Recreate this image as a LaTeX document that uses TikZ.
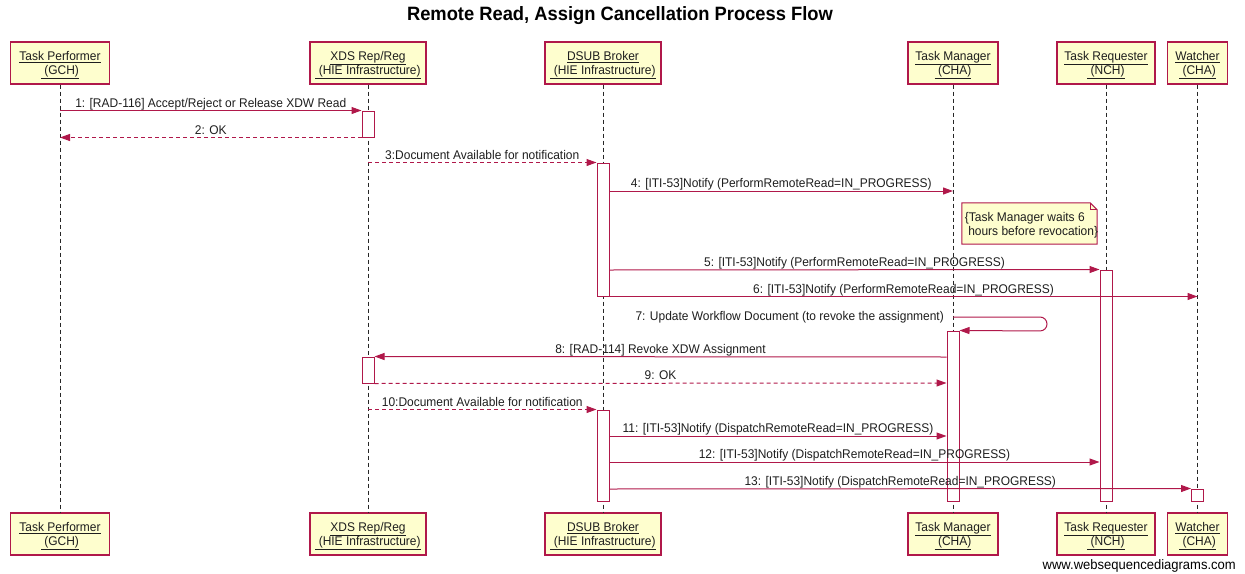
\documentclass[tikz,border=0pt]{standalone}
\usepackage{fontspec}
\setmainfont{Liberation Sans}[FakeStretch=0.95]
\usetikzlibrary{arrows.meta}
\definecolor{wsdline}{HTML}{B0184A}
\definecolor{wsdfill}{HTML}{FEFECE}
\definecolor{wsdtext}{HTML}{1E1E1E}

\newcommand{\wsdfont}{\fontsize{12.6}{14}\selectfont}
\newcommand{\tallstrut}{\rule{0pt}{13.5pt}}

\tikzset{
  actor/.style={draw=wsdline, fill=wsdfill, line width=1.2pt, minimum height=42pt,
    inner sep=0pt, align=center, font=\wsdfont, text=wsdtext},
  life/.style={draw=black!85, dash pattern=on 4pt off 3pt, line width=0.9pt},
  act/.style={draw=wsdline, fill=white, line width=1pt, minimum width=12pt, inner sep=0pt},
  msg/.style={draw=wsdline, line width=1pt, -{Triangle[length=10pt,width=7pt]}},
  reply/.style={msg, dash pattern=on 4pt off 3pt},
  lbl/.style={font=\wsdfont, text=wsdtext, inner sep=0pt, anchor=base, yshift=3.5pt},
  notebox/.style={draw=none, inner sep=0pt, minimum width=135pt, minimum height=41pt,
    font=\wsdfont, text=wsdtext, align=left},
}

\begin{document}
\begin{tikzpicture}[x=1pt,y=-1pt]
\useasboundingbox (0,0) rectangle (1245,573);

% title
\node[font=\fontsize{19.3}{21}\selectfont\bfseries, text=black] (title) at (620,16)
  {Remote Read, Assign Cancellation Process Flow};

% participants (top row)
\node[actor, minimum width=99pt]  (tp)  at (60,63)   {\tallstrut\underline{Task Performer}\\\underline{\ (GCH)}};
\node[actor, minimum width=116pt] (xds) at (368,63)  {\tallstrut\underline{XDS Rep/Reg}\\\underline{\ (HIE Infrastructure)}};
\node[actor, minimum width=116pt] (dsub) at (603,63) {\tallstrut\underline{DSUB Broker}\\\underline{\ (HIE Infrastructure)}};
\node[actor, minimum width=90pt]  (tm)  at (953,63)  {\tallstrut\underline{Task Manager}\\\underline{\ (CHA)}};
\node[actor, minimum width=98pt]  (tr)  at (1106,63) {\tallstrut\underline{Task Requester}\\\underline{\ (NCH)}};
\node[actor, minimum width=60pt]  (wat) at (1197.5,63) {\tallstrut\underline{Watcher}\\\underline{\ (CHA)}};

% participants (bottom row)
\node[actor, minimum width=99pt]  (tpB)  at (60,534)   {\tallstrut\underline{Task Performer}\\\underline{\ (GCH)}};
\node[actor, minimum width=116pt] (xdsB) at (368,534)  {\tallstrut\underline{XDS Rep/Reg}\\\underline{\ (HIE Infrastructure)}};
\node[actor, minimum width=116pt] (dsubB) at (603,534) {\tallstrut\underline{DSUB Broker}\\\underline{\ (HIE Infrastructure)}};
\node[actor, minimum width=90pt]  (tmB)  at (953,534)  {\tallstrut\underline{Task Manager}\\\underline{\ (CHA)}};
\node[actor, minimum width=98pt]  (trB)  at (1106,534) {\tallstrut\underline{Task Requester}\\\underline{\ (NCH)}};
\node[actor, minimum width=60pt]  (watB) at (1197.5,534) {\tallstrut\underline{Watcher}\\\underline{\ (CHA)}};

% lifelines
\draw[life] (tp.south) -- (tpB.north);
\draw[life] (xds.south) -- (xdsB.north);
\draw[life] (dsub.south) -- (dsubB.north);
\draw[life] (tm.south) -- (tmB.north);
\draw[life] (tr.south) -- (trB.north);
\draw[life] (wat.south) -- (watB.north);

% activation bars
\node[act, minimum height=26pt]  (aX1) at (368,124)    {};
\node[act, minimum height=133pt] (aD1) at (603,229.5)  {};
\node[act, minimum height=231pt] (aTR) at (1106,385.5) {};
\node[act, minimum height=170pt] (aTM) at (953,416)    {};
\node[act, minimum height=26pt]  (aX2) at (368,370)    {};
\node[act, minimum height=91pt]  (aD2) at (603,455.5)  {};
\node[act, minimum height=12pt]  (aW)  at (1197.5,495) {};

% message levels
\coordinate (y4)  at (0,191);
\coordinate (y5)  at (0,270);
\coordinate (y7)  at (0,317);
\coordinate (y7r) at (1047,317);
\coordinate (y7d) at (1047,331);
\coordinate (y8)  at (0,357);
\coordinate (y9)  at (0,383);
\coordinate (y11) at (0,436);
\coordinate (y12) at (0,462);
\coordinate (y13) at (0,489);

% messages
\draw[msg] (tp |- aX1.north) -- (aX1.north west)
  node[lbl, midway] {1: [RAD-116] Accept/Reject or Release XDW Read};
\draw[reply] (aX1.south west) -- (tp |- aX1.south)
  node[lbl, midway] {2: OK};
\draw[reply] (xds |- aD1.north) -- (aD1.north west)
  node[lbl, midway] {3:Document Available for notification};
\draw[msg] (aD1.east |- y4) -- (tm |- y4)
  node[lbl, midway] {4: [ITI-53]Notify (PerformRemoteRead=IN\_PROGRESS)};

% note with folded corner
\node[notebox] (note) at (1029.5,223.5) {};
\draw[draw=wsdline, fill=wsdfill, line width=1pt]
  (note.north west) -- ([xshift=-7pt]note.north east) -- ([yshift=-7pt]note.north east)
  -- (note.south east) -- (note.south west) -- cycle;
\draw[draw=wsdline, line width=1pt]
  ([xshift=-7pt]note.north east) -- ([xshift=-7pt,yshift=-7pt]note.north east)
  -- ([yshift=-7pt]note.north east);
\node[notebox, anchor=west] (notetext) at ([xshift=2pt,yshift=-1.5pt]note.west)
  {\{Task Manager waits 6\\\hspace*{3.3pt}hours before revocation\}};

\draw[msg] (aD1.east |- y5) -- (aTR.north west)
  node[lbl, midway] {5: [ITI-53]Notify (PerformRemoteRead=IN\_PROGRESS)};
\draw[msg] (aD1.south east) -- (wat |- aD1.south)
  node[lbl, midway] {6: [ITI-53]Notify (PerformRemoteRead=IN\_PROGRESS)};

% self message
\draw[msg, rounded corners=7pt] (tm |- y7) -- (y7r) -- (y7d) -- (aTM.north east);
\node[font=\wsdfont, text=wsdtext, inner sep=0pt, anchor=east]
  (l7) at ([xshift=-9pt]tm |- y7) {7: Update Workflow Document (to revoke the assignment)};

\draw[msg] (aTM.west |- y8) -- (aX2.north east)
  node[lbl, midway] {8: [RAD-114] Revoke XDW Assignment};
\draw[reply] (aX2.south east) -- (aTM.west |- y9)
  node[lbl, midway] {9: OK};
\draw[reply] (xds |- aD2.north) -- (aD2.north west)
  node[lbl, midway] {10:Document Available for notification};
\draw[msg] (aD2.east |- y11) -- (aTM.west |- y11)
  node[lbl, midway] {11: [ITI-53]Notify (DispatchRemoteRead=IN\_PROGRESS)};
\draw[msg] (aD2.east |- y12) -- (aTR.west |- y12)
  node[lbl, midway] {12: [ITI-53]Notify (DispatchRemoteRead=IN\_PROGRESS)};
\draw[msg] (aD2.east |- y13) -- (aW.north west)
  node[lbl, midway] {13: [ITI-53]Notify (DispatchRemoteRead=IN\_PROGRESS)};

% credit line
\node[font=\fontsize{13.7}{15}\selectfont, text=black, anchor=east, inner sep=0pt]
  (credit) at (1236,566) {www.websequencediagrams.com};
\end{tikzpicture}
\end{document}
